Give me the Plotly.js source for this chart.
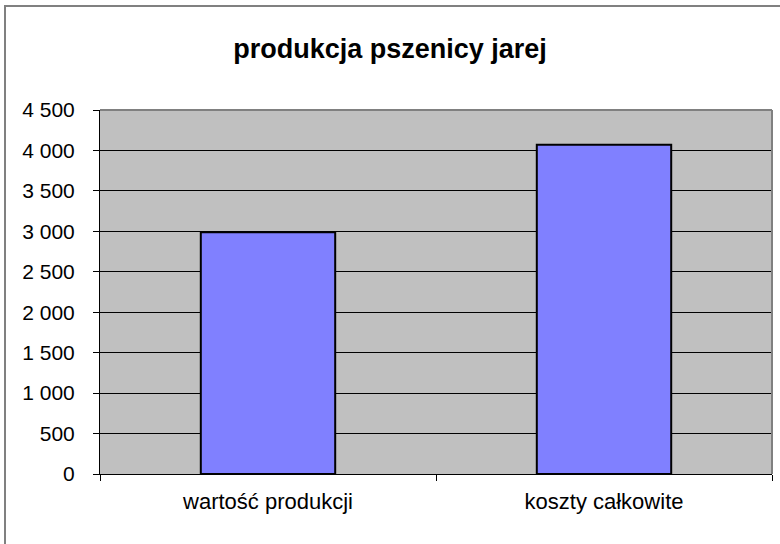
<!DOCTYPE html>
<html>
<head>
<meta charset="utf-8">
<script src="https://cdn.plot.ly/plotly-3.0.1.min.js"></script>
<style>
  html, body { margin: 0; padding: 0; overflow: hidden; background: #fff; }
  #wrap { position: relative; width: 780px; height: 544px; }
  #chart { position: absolute; left: 0; top: 0; width: 780px; height: 544px; }
  #frame { position: absolute; left: 4px; top: 5px; width: 900px; height: 700px;
           border-left: 2px solid #808080; border-top: 2px solid #808080; pointer-events: none; }
</style>
</head>
<body>
<div id="wrap">
  <div id="chart"></div>
  <div id="frame"></div>
</div>
<script>
const categories = ["wartość produkcji", "koszty całkowite"];
const values = [2990, 4070];
const yTicks = [0, 500, 1000, 1500, 2000, 2500, 3000, 3500, 4000, 4500];
const titleText = "produkcja pszenicy jarej";

const trace = {
  type: "bar",
  x: categories,
  y: values,
  marker: { color: "#8080FF", line: { color: "#000000", width: 2 } },
  hoverinfo: "x+y"
};

const layout = {
  width: 780,
  height: 544,
  margin: { l: 100, r: 8, t: 110, b: 70 },
  paper_bgcolor: "rgba(0,0,0,0)",
  plot_bgcolor: "#C0C0C0",
  separators: ", ",
  showlegend: false,
  bargap: 0.6,
  font: { family: "Liberation Sans, Arial, sans-serif", size: 21, color: "#000" },
  title: {
    text: "<b>" + titleText + "</b>",
    font: { family: "Liberation Sans, Arial, sans-serif", size: 27, color: "#000" },
    x: 0.5, xanchor: "center",
    y: 1 - 49 / 544, yref: "container", yanchor: "middle"
  },
  xaxis: {
    type: "category",
    showgrid: false,
    showline: true, linecolor: "#000", linewidth: 1,
    ticks: "outside", ticklen: 6, tickcolor: "#000", tickson: "boundaries",
    ticklabelstandoff: 8,
    tickfont: { size: 22 },
    zeroline: false,
    fixedrange: true
  },
  yaxis: {
    range: [0, 4500],
    tickvals: yTicks,
    tickformat: ",d",
    showgrid: true, gridcolor: "#000", gridwidth: 1,
    showline: true, linecolor: "#000", linewidth: 1,
    ticks: "outside", ticklen: 6, tickcolor: "#000",
    ticklabelstandoff: 14,
    tickfont: { size: 21 },
    zeroline: false,
    fixedrange: true
  },
  shapes: [
    { type: "line", xref: "paper", yref: "paper", x0: 0, x1: 1, y0: 1, y1: 1,
      line: { color: "#808080", width: 2 } },
    { type: "line", xref: "paper", yref: "paper", x0: 1, x1: 1, y0: 0, y1: 1,
      line: { color: "#808080", width: 2 } }
  ]
};

Plotly.newPlot("chart", [trace], layout, { displayModeBar: false, staticPlot: true });
</script>
</body>
</html>
